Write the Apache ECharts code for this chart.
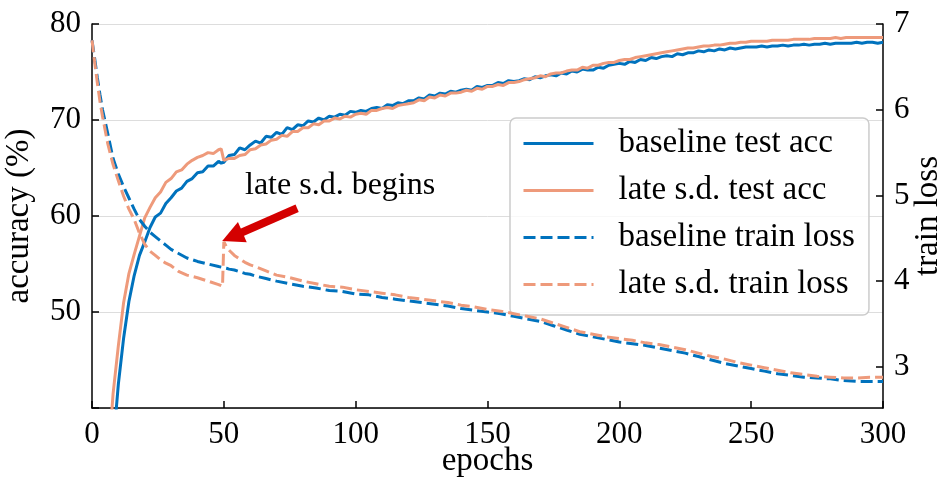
<!DOCTYPE html>
<html>
<head>
<meta charset="utf-8">
<script src="https://cdn.jsdelivr.net/npm/echarts@6/dist/echarts.min.js"></script>
<style>
html,body{margin:0;padding:0;background:#fff;}
#chart{width:946px;height:477px;}
</style>
</head>
<body>
<div id="chart"></div>
<script>
// ---- data ----
const accEpochsEarly = [0,2,4,6,8,10,12,14,16,18,20,22,24,26,28,30,32,34,36,38,40,42,44,46,48,49];
const accEpochsLate = [];
for (let e = 50; e <= 300; e += 2) accEpochsLate.push(e);
const accEpochs = accEpochsEarly.concat(accEpochsLate);

const baselineTestAcc = [
  10, 17, 24, 30, 36, 42.5, 47.3, 51.1, 53.8, 55.9, 57.3, 58.8, 59.9, 60.3, 61.3, 61.9, 62.6, 62.9, 63.6, 63.9, 64.5, 64.6, 65.2, 65.2, 65.7,
  65.5,
  65.6, 66.3, 66.4, 67.1, 66.9, 67.4, 67.8, 67.6, 68.3, 68.2,
  68.7, 68.5, 69.2, 69.0, 69.5, 69.4, 69.9, 69.8, 70.2, 70.0,
  70.4, 70.3, 70.6, 70.5, 70.9, 70.8, 71.0, 70.9, 71.2, 71.3,
  71.2, 71.6, 71.5, 71.8, 71.7, 72.0, 72.0, 72.3, 72.2, 72.6,
  72.5, 72.8, 72.7, 73.0, 72.9, 73.1, 73.2, 73.1, 73.5, 73.4,
  73.6, 73.6, 73.9, 73.8, 74.1, 74.0, 74.1, 74.3, 74.2, 74.5,
  74.4, 74.6, 74.7, 74.6, 74.9, 74.8, 75.1, 75.0, 75.3, 75.2,
  75.2, 75.5, 75.4, 75.7, 75.8, 75.9, 75.8, 76.1, 76.0, 76.3,
  76.2, 76.5, 76.4, 76.6, 76.7, 76.6, 76.9, 76.8, 77.0, 77.0,
  77.2, 77.1, 77.3, 77.2, 77.4, 77.3, 77.5, 77.4, 77.5, 77.6,
  77.6, 77.6, 77.7, 77.6, 77.7, 77.7, 77.8, 77.7, 77.8, 77.8,
  77.9, 77.8, 77.9, 77.9, 78.0, 77.9, 78.0, 78.0, 78.0, 78.0,
  78.1, 78.0, 78.1, 78.1, 78.0, 78.1
];
const lateSdTestAcc = [
  12, 20, 27, 34, 41.5, 46.5, 51.0, 54.0, 56.0, 57.9, 59.8, 60.9, 61.9, 62.5, 63.5, 63.9, 64.6, 64.8, 65.4, 65.8, 66.1, 66.3, 66.6, 66.5, 66.9,
  67.0,
  65.8, 66.0, 66.0, 66.3, 66.4, 66.9, 67.0, 67.4, 67.5, 67.9,
  68.0, 68.4, 68.3, 68.8, 68.8, 69.2, 69.2, 69.6, 69.5, 69.9,
  69.9, 70.2, 70.1, 70.4, 70.3, 70.6, 70.7, 70.6, 71.0, 71.0,
  71.2, 71.3, 71.2, 71.5, 71.6, 71.7, 71.8, 72.1, 72.0, 72.4,
  72.3, 72.6, 72.5, 72.8, 72.8, 72.9, 73.1, 73.0, 73.3, 73.2,
  73.5, 73.5, 73.7, 73.6, 73.9, 73.9, 74.0, 74.2, 74.3, 74.4,
  74.6, 74.5, 74.8, 74.9, 74.9, 75.1, 75.2, 75.2, 75.5, 75.4,
  75.7, 75.7, 75.9, 76.0, 76.0, 76.2, 76.3, 76.3, 76.5, 76.6,
  76.7, 76.8, 76.9, 77.0, 77.1, 77.2, 77.3, 77.4, 77.5, 77.5,
  77.6, 77.7, 77.7, 77.8, 77.8, 77.9, 78.0, 78.0, 78.1, 78.1,
  78.2, 78.2, 78.2, 78.2, 78.3, 78.3, 78.3, 78.3, 78.4, 78.4,
  78.4, 78.4, 78.5, 78.5, 78.5, 78.5, 78.6, 78.5, 78.6, 78.6,
  78.6, 78.6, 78.6, 78.6, 78.6, 78.6
];

const lossEpochsEarly = [0,1,2,3,4,6,8,10,12,14,16,18,20,22,24,26,28,30,33,36,40,44,48,49.5,50,51,52,54,56,58,60,62,66,70];
const lossEpochsLate = [];
for (let e = 75; e <= 300; e += 5) lossEpochsLate.push(e);
const lossEpochs = lossEpochsEarly.concat(lossEpochsLate);

const baselineTrainLoss = [
  6.81, 6.60, 6.38, 6.18, 6.00,
  5.72, 5.43, 5.25, 5.10, 4.97, 4.84, 4.72, 4.64, 4.57, 4.52, 4.47, 4.42, 4.37,
  4.32, 4.27, 4.23, 4.20, 4.17,
  4.16, 4.16, 4.15, 4.14, 4.13, 4.11, 4.09, 4.08, 4.06, 4.03, 4.00,
  3.97, 3.94, 3.92, 3.89, 3.88, 3.85, 3.84, 3.81, 3.79, 3.77,
  3.75, 3.73, 3.71, 3.68, 3.66, 3.64, 3.62, 3.59, 3.56, 3.53,
  3.48, 3.43, 3.38, 3.35, 3.32, 3.29, 3.27, 3.25, 3.22, 3.19,
  3.16, 3.12, 3.08, 3.04, 3.01, 2.98, 2.95, 2.92, 2.90, 2.88,
  2.87, 2.86, 2.84, 2.83, 2.83, 2.83
];
const lateSdTrainLoss = [
  6.81, 6.56, 6.32, 6.10, 5.92,
  5.60, 5.36, 5.17, 4.99, 4.84, 4.72, 4.56, 4.43, 4.35, 4.30, 4.25, 4.21, 4.18,
  4.11, 4.07, 4.04, 4.00, 3.96,
  3.94, 4.46, 4.40, 4.36, 4.30, 4.26, 4.22, 4.19, 4.17, 4.12, 4.07,
  4.04, 4.00, 3.97, 3.94, 3.93, 3.90, 3.88, 3.86, 3.84, 3.81,
  3.79, 3.77, 3.75, 3.72, 3.70, 3.67, 3.65, 3.62, 3.59, 3.56,
  3.51, 3.46, 3.41, 3.38, 3.35, 3.33, 3.31, 3.28, 3.26, 3.23,
  3.20, 3.16, 3.12, 3.09, 3.05, 3.02, 2.99, 2.96, 2.93, 2.91,
  2.89, 2.88, 2.87, 2.87, 2.88, 2.88
];

const seriesNames = ['baseline test acc', 'late s.d. test acc', 'baseline train loss', 'late s.d. train loss'];
const accTicks = [50, 60, 70, 80];
const lossTicks = [3, 4, 5, 6, 7];
const annotationText = 'late s.d. begins';
const arrowFrom = [77.8, 4.85];
const arrowTo = [53.2, 4.52];

// ---- chart ----
const FONT = "'Liberation Serif', 'Times New Roman', serif";
const BLUE = '#0072BD';
const ORANGE = '#EE9A7B';
const zip = (xs, ys) => xs.map((x, i) => [x, ys[i]]);

const chart = echarts.init(document.getElementById('chart'), null, {renderer: 'canvas'});
const axisCommon = {
  axisLine: {show: true, onZero: false, lineStyle: {color: '#000', width: 1.5}},
  axisTick: {show: true, inside: true, length: 7, lineStyle: {color: '#000', width: 1.5}},
  axisLabel: {color: '#000', fontSize: 31, fontFamily: FONT, margin: 11},
  nameTextStyle: {color: '#000', fontSize: 33, fontFamily: FONT},
  nameMoveOverlap: false
};

chart.setOption({
  animation: false,
  backgroundColor: '#fff',
  grid: {left: 92, right: 63, top: 24, bottom: 69, containLabel: false, outerBoundsMode: 'none'},
  xAxis: Object.assign({}, axisCommon, {
    type: 'value', min: 0, max: 300, interval: 50,
    splitLine: {show: false},
    name: 'epochs', nameLocation: 'middle', nameGap: 37
  }),
  yAxis: [
    Object.assign({}, axisCommon, {
      type: 'value', min: 40, max: 80, interval: 10, position: 'left',
      axisLabel: Object.assign({}, axisCommon.axisLabel, {
        formatter: v => accTicks.indexOf(v) >= 0 ? String(v) : ''
      }),
      splitLine: {show: true, lineStyle: {color: '#dddddd', width: 1}},
      name: 'accuracy (%)', nameLocation: 'middle', nameRotate: 90, nameGap: 56
    }),
    Object.assign({}, axisCommon, {
      type: 'value', min: 2.52, max: 7, position: 'right',
      axisLabel: Object.assign({}, axisCommon.axisLabel, {customValues: lossTicks}),
      axisTick: Object.assign({}, axisCommon.axisTick, {customValues: lossTicks}),
      splitLine: {show: false},
      name: 'train loss', nameLocation: 'middle', nameRotate: 90, nameGap: 29
    })
  ],
  legend: {
    orient: 'vertical', left: 510, top: 118,
    data: seriesNames,
    itemWidth: 70, itemHeight: 14, itemGap: 14,
    padding: [9, 14, 14, 12],
    backgroundColor: 'rgba(255,255,255,0.8)',
    borderColor: '#cccccc', borderWidth: 1.5, borderRadius: 6,
    itemStyle: {opacity: 0, borderWidth: 0},
    lineStyle: {width: 3},
    textStyle: {color: '#000', fontSize: 33, fontFamily: FONT, lineHeight: 31, padding: [0, 0, 0, 20]},
    selectedMode: false
  },
  graphic: [{
    type: 'text', left: 245, top: 170, z: 100,
    style: {text: annotationText, fill: '#000', fontSize: 32, fontFamily: FONT}
  }],
  series: [
    {name: seriesNames[0], type: 'line', yAxisIndex: 0, data: zip(accEpochs, baselineTestAcc),
     symbol: 'none', lineStyle: {color: BLUE, width: 3}, itemStyle: {color: BLUE}, z: 2},
    {name: seriesNames[1], type: 'line', yAxisIndex: 0, data: zip(accEpochs, lateSdTestAcc),
     symbol: 'none', lineStyle: {color: ORANGE, width: 3}, itemStyle: {color: ORANGE}, z: 3},
    {name: seriesNames[2], type: 'line', yAxisIndex: 1, data: zip(lossEpochs, baselineTrainLoss),
     symbol: 'none', lineStyle: {color: BLUE, width: 3, type: [12, 5]}, itemStyle: {color: BLUE}, z: 4},
    {name: seriesNames[3], type: 'line', yAxisIndex: 1, data: zip(lossEpochs, lateSdTrainLoss),
     symbol: 'none', lineStyle: {color: ORANGE, width: 3, type: [12, 5]}, itemStyle: {color: ORANGE}, z: 5,
     markLine: {
       silent: true, animation: false,
       symbol: ['none', 'triangle'], symbolSize: 22,
       label: {show: false},
       lineStyle: {color: '#D40000', width: 8, type: 'solid'},
       data: [[{coord: arrowFrom}, {coord: arrowTo}]]
     }}
  ]
});
</script>
</body>
</html>
